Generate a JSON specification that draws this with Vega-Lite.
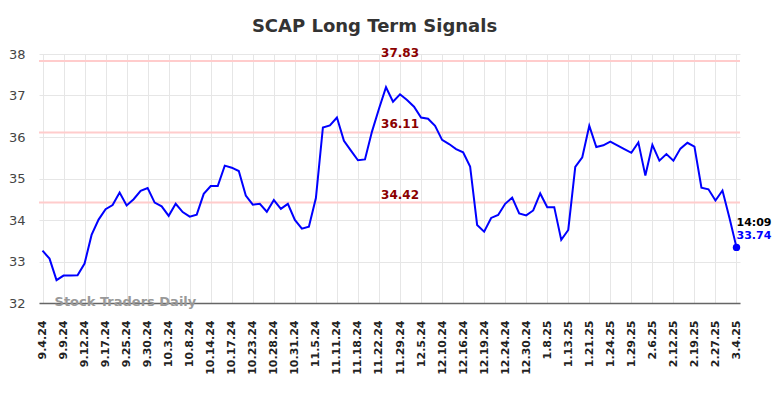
{
  "$schema": "https://vega.github.io/schema/vega-lite/v6.json",
  "width": 701,
  "height": 249,
  "autosize": {"type": "none"},
  "padding": {"left": 39, "top": 54, "right": 44, "bottom": 95},
  "background": "white",
  "title": {
    "text": "SCAP Long Term Signals",
    "font": "DejaVu Sans",
    "fontSize": 18,
    "fontWeight": "bold",
    "color": "#333333",
    "anchor": "middle",
    "frame": "group",
    "baseline": "bottom",
    "offset": 18,
    "dx": -15,
    "dy": 25
  },
  "config": {
    "view": {"stroke": null},
    "font": "DejaVu Sans"
  },
  "datasets": {
    "prices": [
      {"date": "9.4.24", "value": 33.26},
      {"date": "9.5.24", "value": 33.07},
      {"date": "9.6.24", "value": 32.55},
      {"date": "9.9.24", "value": 32.66},
      {"date": "9.10.24", "value": 32.66},
      {"date": "9.11.24", "value": 32.67},
      {"date": "9.12.24", "value": 32.95},
      {"date": "9.13.24", "value": 33.64},
      {"date": "9.16.24", "value": 34.01},
      {"date": "9.17.24", "value": 34.26},
      {"date": "9.19.24", "value": 34.36},
      {"date": "9.23.24", "value": 34.66},
      {"date": "9.25.24", "value": 34.35},
      {"date": "9.26.24", "value": 34.50},
      {"date": "9.27.24", "value": 34.70},
      {"date": "9.30.24", "value": 34.77},
      {"date": "10.1.24", "value": 34.42},
      {"date": "10.2.24", "value": 34.33},
      {"date": "10.3.24", "value": 34.10},
      {"date": "10.4.24", "value": 34.39},
      {"date": "10.7.24", "value": 34.19},
      {"date": "10.8.24", "value": 34.08},
      {"date": "10.9.24", "value": 34.13},
      {"date": "10.11.24", "value": 34.63},
      {"date": "10.14.24", "value": 34.82},
      {"date": "10.15.24", "value": 34.82},
      {"date": "10.16.24", "value": 35.31},
      {"date": "10.17.24", "value": 35.26},
      {"date": "10.18.24", "value": 35.18},
      {"date": "10.22.24", "value": 34.59},
      {"date": "10.23.24", "value": 34.37},
      {"date": "10.24.24", "value": 34.39},
      {"date": "10.25.24", "value": 34.20},
      {"date": "10.28.24", "value": 34.48},
      {"date": "10.29.24", "value": 34.27},
      {"date": "10.30.24", "value": 34.39},
      {"date": "10.31.24", "value": 34.00},
      {"date": "11.1.24", "value": 33.79},
      {"date": "11.4.24", "value": 33.84},
      {"date": "11.5.24", "value": 34.53},
      {"date": "11.6.24", "value": 36.23},
      {"date": "11.8.24", "value": 36.28},
      {"date": "11.11.24", "value": 36.47},
      {"date": "11.13.24", "value": 35.91},
      {"date": "11.15.24", "value": 35.67},
      {"date": "11.18.24", "value": 35.44},
      {"date": "11.19.24", "value": 35.46},
      {"date": "11.21.24", "value": 36.13},
      {"date": "11.22.24", "value": 36.68},
      {"date": "11.25.24", "value": 37.20},
      {"date": "11.27.24", "value": 36.85},
      {"date": "11.29.24", "value": 37.03},
      {"date": "12.2.24", "value": 36.89},
      {"date": "12.4.24", "value": 36.73},
      {"date": "12.5.24", "value": 36.47},
      {"date": "12.6.24", "value": 36.44},
      {"date": "12.9.24", "value": 36.27},
      {"date": "12.10.24", "value": 35.93},
      {"date": "12.11.24", "value": 35.83},
      {"date": "12.13.24", "value": 35.71},
      {"date": "12.16.24", "value": 35.63},
      {"date": "12.17.24", "value": 35.29},
      {"date": "12.18.24", "value": 33.88},
      {"date": "12.19.24", "value": 33.72},
      {"date": "12.20.24", "value": 34.05},
      {"date": "12.23.24", "value": 34.12},
      {"date": "12.24.24", "value": 34.39},
      {"date": "12.26.24", "value": 34.54},
      {"date": "12.27.24", "value": 34.16},
      {"date": "12.30.24", "value": 34.11},
      {"date": "1.2.25", "value": 34.23},
      {"date": "1.6.25", "value": 34.64},
      {"date": "1.8.25", "value": 34.31},
      {"date": "1.9.25", "value": 34.31},
      {"date": "1.10.25", "value": 33.52},
      {"date": "1.13.25", "value": 33.76},
      {"date": "1.15.25", "value": 35.28},
      {"date": "1.17.25", "value": 35.51},
      {"date": "1.21.25", "value": 36.27},
      {"date": "1.22.25", "value": 35.76},
      {"date": "1.23.25", "value": 35.80},
      {"date": "1.24.25", "value": 35.89},
      {"date": "1.27.25", "value": 35.80},
      {"date": "1.28.25", "value": 35.71},
      {"date": "1.29.25", "value": 35.62},
      {"date": "1.31.25", "value": 35.87},
      {"date": "2.4.25", "value": 35.07},
      {"date": "2.6.25", "value": 35.81},
      {"date": "2.7.25", "value": 35.43},
      {"date": "2.10.25", "value": 35.59},
      {"date": "2.12.25", "value": 35.43},
      {"date": "2.13.25", "value": 35.72},
      {"date": "2.14.25", "value": 35.86},
      {"date": "2.19.25", "value": 35.77},
      {"date": "2.21.25", "value": 34.78},
      {"date": "2.25.25", "value": 34.74},
      {"date": "2.27.25", "value": 34.47},
      {"date": "2.28.25", "value": 34.71},
      {"date": "3.3.25", "value": 34.05},
      {"date": "3.4.25", "value": 33.34, "time": "14:09", "label": "33.74"}
    ],
    "levels": [
      {"level": 37.83},
      {"level": 36.11},
      {"level": 34.42}
    ]
  },
  "data": {"name": "prices"},
  "encoding": {
    "x": {
      "field": "date",
      "type": "ordinal",
      "sort": null,
      "scale": {"type": "point", "padding": 0.5},
      "axis": {
        "title": null,
        "values": ["9.4.24","9.9.24","9.12.24","9.17.24","9.25.24","9.30.24","10.3.24","10.8.24","10.14.24","10.17.24","10.23.24","10.28.24","10.31.24","11.5.24","11.11.24","11.18.24","11.22.24","11.29.24","12.5.24","12.10.24","12.16.24","12.19.24","12.24.24","12.30.24","1.8.25","1.13.25","1.21.25","1.24.25","1.29.25","2.6.25","2.12.25","2.19.25","2.27.25","3.4.25"],
        "labelAngle": -90,
        "labelAlign": "right",
        "labelBaseline": "middle",
        "labelFont": "DejaVu Sans",
        "labelFontSize": 11,
        "labelFontWeight": "bold",
        "labelColor": "#222222",
        "labelPadding": 17,
        "ticks": false,
        "grid": true,
        "gridColor": "#e6e6e6",
        "gridWidth": 1,
        "domain": true,
        "domainColor": "#666666",
        "domainWidth": 1.5,
        "labelOverlap": false
      }
    },
    "y": {
      "field": "value",
      "type": "quantitative",
      "scale": {"domain": [32, 38], "nice": false, "zero": false},
      "axis": {
        "title": null,
        "values": [32, 33, 34, 35, 36, 37, 38],
        "labelFont": "DejaVu Sans",
        "labelFontSize": 13,
        "labelColor": "#444444",
        "labelPadding": 14,
        "ticks": false,
        "domain": false,
        "grid": true,
        "gridColor": "#e6e6e6",
        "gridWidth": 1
      }
    }
  },
  "layer": [
    {
      "data": {"name": "levels"},
      "mark": {"type": "rule", "color": "#ffcccc", "strokeWidth": 2},
      "encoding": {
        "x": null,
        "y": {"field": "level", "type": "quantitative"}
      }
    },
    {
      "mark": {"type": "line", "color": "#0000ff", "strokeWidth": 2, "interpolate": "linear"}
    },
    {
      "data": {"name": "levels"},
      "mark": {"type": "text", "color": "#8b0000", "fontSize": 12, "fontWeight": "bold", "font": "DejaVu Sans", "align": "center", "baseline": "alphabetic", "dy": -4},
      "encoding": {
        "x": {"datum": "11.29.24", "type": "ordinal"},
        "y": {"field": "level", "type": "quantitative"},
        "text": {"field": "level", "type": "quantitative", "format": ".2f"}
      }
    },
    {
      "transform": [{"filter": "datum.time != null"}],
      "mark": {"type": "point", "filled": true, "color": "#0000ff", "size": 55, "opacity": 1}
    },
    {
      "transform": [{"filter": "datum.time != null"}],
      "mark": {"type": "text", "color": "#000000", "fontSize": 11, "fontWeight": "bold", "font": "DejaVu Sans", "align": "left", "baseline": "alphabetic", "dx": 0, "dy": -21},
      "encoding": {"text": {"field": "time"}}
    },
    {
      "transform": [{"filter": "datum.time != null"}],
      "mark": {"type": "text", "color": "#0000ff", "fontSize": 11, "fontWeight": "bold", "font": "DejaVu Sans", "align": "left", "baseline": "alphabetic", "dx": 0, "dy": -8},
      "encoding": {"text": {"field": "label"}}
    },
    {
      "transform": [{"filter": "datum.date == '9.6.24'"}],
      "mark": {"type": "text", "color": "#999999", "fontSize": 13, "fontWeight": "bold", "font": "DejaVu Sans", "align": "left", "baseline": "middle", "dx": -2, "dy": -1},
      "encoding": {
        "y": {"datum": 32},
        "text": {"value": "Stock Traders Daily"}
      }
    }
  ]
}
